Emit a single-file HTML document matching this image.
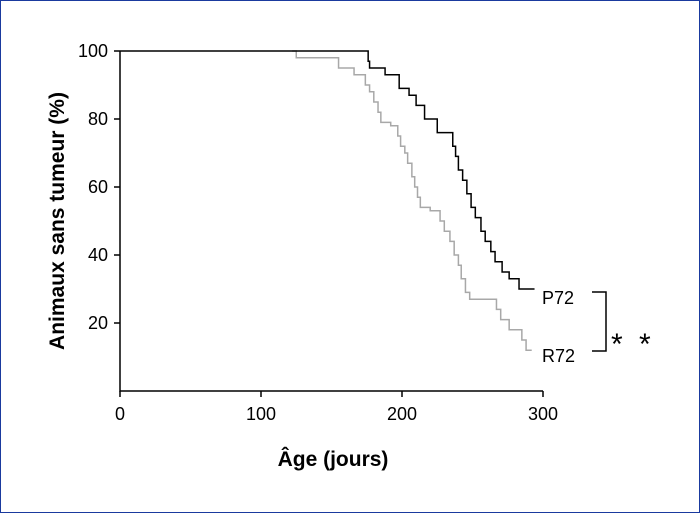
<!DOCTYPE html>
<html><head><meta charset="utf-8"><style>
body{margin:0;background:#fff}
svg{display:block;font-family:"Liberation Sans",sans-serif}
</style></head><body>
<svg width="700" height="513" viewBox="0 0 700 513">
<rect x="0.5" y="0.5" width="699" height="512" fill="#fff" stroke="#1a3a9e" stroke-width="1"/>
<g id="axes"></g>
<g id="series"></g>
<text x="542" y="304" font-size="18">P72</text>
<text x="542" y="362" font-size="18">R72</text>
<path d="M592 292 H606 V351 H592" fill="none" stroke="#000" stroke-width="1.5"/>
<text x="611" y="354" font-size="30">*</text>
<text x="639" y="354" font-size="30">*</text>
<text x="333" y="466" font-size="21" font-weight="bold" text-anchor="middle">Âge (jours)</text>
<text transform="translate(64,221) rotate(-90)" font-size="21" font-weight="bold" text-anchor="middle">Animaux sans tumeur (%)</text>
</svg>
<script>
const xTicks=[0,100,200,300];
const yTicks=[20,40,60,80,100];
const p72Days=[0,176,177,188,198,205,210,216,225,236,238,240,243,246,249,252,256,259,263,266,271,276,283];
const p72Vals=[100,97,95,93,89,87,84,80,76,72,69,65,62,58,54,51,47,44,41,38,35,33,30];
const p72End=294;
const r72Days=[122,125,155,166,174,177,180,183,185,192,197,199,202,204,207,209,211,213,220,227,230,234,237,240,242,245,248,267,270,276,285,288];
const r72Vals=[100,98,95,93,90,88,85,82,79,78,75,72,70,67,63,60,57,54,53,50,47,44,40,37,33,29,27,24,21,18,15,12];
const r72End=292;
const X=d=>120+d*1.41, Y=v=>391-v*3.4;
const NS="http://www.w3.org/2000/svg";
const ax=document.getElementById('axes'), se=document.getElementById('series');
function mk(tag,attrs,parent){const e=document.createElementNS(NS,tag);for(const k in attrs)e.setAttribute(k,attrs[k]);parent.appendChild(e);return e;}
let a=mk('path',{d:`M${X(0)} ${Y(100)} V${Y(0)} H${X(300)}`,fill:'none',stroke:'#000','stroke-width':1.5},ax);


xTicks.forEach(t=>{
 let l=mk('line',{x1:X(t),x2:X(t),y1:Y(0),y2:Y(0)+6,stroke:'#000','stroke-width':1.5},ax);
 
 
 let tx=mk('text',{x:X(t),y:Y(0)+29,'font-size':18,'text-anchor':'middle'},ax);tx.textContent=t;
 
 
});
yTicks.forEach(t=>{
 let l=mk('line',{x1:X(0)-6,x2:X(0),y1:Y(t),y2:Y(t),stroke:'#000','stroke-width':1.5},ax);
 
 
 let tx=mk('text',{x:X(0)-12,y:Y(t)+6,'font-size':18,'text-anchor':'end'},ax);tx.textContent=t;
 
 
});
function step(days,vals,end){let d=`M${X(days[0])} ${Y(vals[0])}`;for(let i=1;i<days.length;i++){d+=` H${X(days[i])} V${Y(vals[i])}`;}d+=` H${X(end)}`;return d;}
let r=mk('path',{d:step(r72Days,r72Vals,r72End),fill:'none',stroke:'#a8a8a8','stroke-width':1.5},se);


let p=mk('path',{d:step(p72Days,p72Vals,p72End),fill:'none',stroke:'#000','stroke-width':1.5},se);


</script>
</body></html>
